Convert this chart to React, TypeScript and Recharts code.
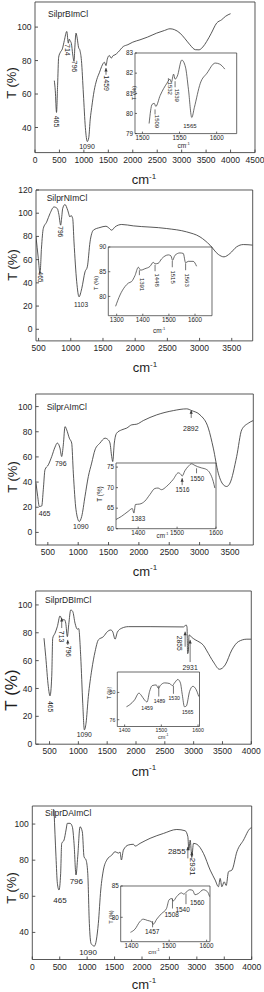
import React from 'react';
import { LineChart, Line, XAxis, YAxis, ReferenceLine, ReferenceDot } from 'recharts';

const FONT = '"Liberation Sans", Arial, Helvetica, sans-serif';
const INK = '#3a3a3a';
const TXT = '#1e1e1e';

// ---------- Panel 1 : SilprBImCl ----------
const p1Wavenumber = [395, 415, 440, 462, 484, 520, 560, 600, 650, 682, 700, 716, 745, 770, 798, 815, 839, 865, 890, 920, 950, 990, 1030, 1070, 1100, 1130, 1160, 1210, 1262, 1320, 1364, 1420, 1452, 1480, 1520, 1560, 1600, 1636, 1700, 1806, 1900, 2000, 2148, 2300, 2489, 2650, 2761, 2850, 2966, 3070, 3170, 3280, 3354, 3430, 3511, 3600, 3716, 3818, 3900, 4000];
const p1Transmittance = [68, 62, 49, 65, 82, 85, 87, 92, 97.4, 90.4, 92.8, 92, 90, 84, 79.5, 88, 96.4, 93, 88, 86, 80, 60, 40, 31.6, 34, 45, 52, 62, 68.5, 73, 76.5, 79, 77, 81, 83, 81.5, 83, 83.4, 85, 88.4, 89.5, 91, 92.4, 94, 96.4, 98, 99, 98.5, 96.4, 93, 89.4, 86.5, 86.4, 88, 91.4, 96, 102.4, 104.4, 106.5, 108];
const p1InsetWavenumber = [1509, 1513, 1516, 1518, 1524, 1533, 1537, 1539, 1542, 1544, 1547, 1553, 1558, 1562, 1566.5, 1570, 1578, 1587, 1598, 1604, 1611];
const p1InsetTransmittance = [79.5, 80.45, 80.5, 80.35, 80.9, 81.5, 81.7, 81.55, 81.95, 81.7, 81.85, 82.65, 82.3, 81.2, 79.8, 80.3, 81.5, 82, 82.5, 82.45, 82.2];

// ---------- Panel 2 : SilprNImCl ----------
const p2Wavenumber = [460, 496, 522, 545, 573, 626, 677, 740, 791, 815, 843, 860, 874, 910, 952, 988, 1003, 1030, 1050, 1092, 1128, 1170, 1221, 1257, 1299, 1351, 1454, 1547, 1583, 1635, 1687, 1791, 1971, 2490, 2800, 3007, 3162, 3291, 3379, 3472, 3575, 3679, 3825];
const p2Transmittance = [79.6, 61, 48, 70, 86.8, 92.5, 99.7, 105.4, 104, 99, 89.7, 97, 104, 107.5, 102.6, 96.8, 98, 95.4, 75.3, 41, 28, 35, 49.5, 53.8, 75.3, 85.4, 87.7, 88.8, 87.7, 85.4, 88.2, 90.3, 89.1, 86.8, 83.9, 79.6, 72.5, 64.5, 62.4, 65.3, 71, 73, 72.5];
const p2InsetWavenumber = [1296, 1313, 1332, 1345, 1357, 1370, 1383, 1392, 1408, 1428, 1440, 1447, 1459, 1472, 1498, 1508, 1514, 1523, 1542, 1555, 1564, 1574, 1593, 1606];
const p2InsetTransmittance = [78, 80.3, 82, 82.7, 83, 84.2, 85.9, 85.3, 85.6, 86.1, 86.9, 86.6, 86.7, 87.6, 88.4, 88.2, 87.3, 88.3, 88.8, 88.7, 86.8, 87.1, 87.1, 86.1];

// ---------- Panel 3 : SilprAImCl ----------
const p3Wavenumber = [305, 333, 359, 399, 425, 453, 508, 564, 618, 656, 700, 728, 755, 783, 811, 854, 893, 920, 964, 1018, 1058, 1112, 1167, 1222, 1277, 1359, 1442, 1496, 1524, 1552, 1569, 1595, 1634, 1717, 1799, 1882, 1964, 2073, 2293, 2567, 2788, 2870, 3007, 3144, 3226, 3308, 3391, 3446, 3501, 3611, 3694, 3803, 3885];
const p3Transmittance = [39.2, 28.6, 20.6, 21, 33.9, 49.8, 53.7, 60.3, 67.8, 71, 67, 60.3, 69.6, 84.1, 81.5, 74.9, 71, 47.1, 18, 8.7, 12.7, 28.6, 44.4, 55.1, 65.6, 71, 74.9, 73.5, 71, 60.3, 56.3, 71, 78.9, 81.5, 82.9, 85.5, 86, 88.9, 93.4, 96.8, 98.2, 96.8, 93.4, 82.9, 67, 47.1, 37.9, 36.5, 39.2, 60.3, 81.5, 86.8, 88.9];
const p3InsetWavenumber = [1342, 1357, 1374, 1385, 1389, 1393, 1404, 1417, 1430, 1443, 1451, 1460, 1473, 1490, 1503, 1510, 1513, 1520, 1529, 1537, 1546, 1553, 1563, 1576, 1584, 1593, 1597];
const p3InsetTransmittance = [62.2, 63, 64.2, 64.9, 63.8, 65.9, 66, 66.7, 68.3, 69.8, 69.9, 69.5, 70.3, 72, 73.6, 73.2, 72.8, 74.1, 75.2, 75.8, 75.4, 75.1, 74.8, 74.4, 73.6, 71.5, 69.9];

// ---------- Panel 4 : SilprDBImCl ----------
const p4Wavenumber = [404, 434, 479, 508, 538, 555, 595, 635, 682, 722, 757, 781, 809, 833, 868, 903, 942, 982, 1006, 1041, 1076, 1104, 1133, 1173, 1232, 1290, 1347, 1434, 1503, 1562, 1597, 1637, 1677, 1753, 1868, 2244, 2823, 2870, 2885, 2895, 2907, 2921, 2960, 3026, 3113, 3170, 3229, 3344, 3448, 3547, 3663, 3778, 3923, 4000];
const p4Transmittance = [76.1, 62.9, 41.3, 34.7, 48.5, 76.1, 79.7, 84.4, 92.1, 89.2, 89.4, 86.9, 77.2, 86, 96.4, 95.2, 86.9, 82.6, 83, 62.9, 29.4, 10.3, 15.1, 34.2, 53.3, 66.5, 74.9, 77.2, 80.8, 82, 80.6, 75.4, 80.5, 83.3, 84.4, 84.4, 84.2, 85.6, 84, 65, 66, 78.5, 77, 75, 73, 71, 67, 59, 53.8, 56.9, 67.7, 73.7, 75.4, 75.4];
const p4InsetWavenumber = [1405, 1414, 1427, 1439, 1445, 1454, 1461, 1468, 1475, 1486, 1492, 1497, 1509, 1523, 1530, 1536, 1545, 1552, 1557, 1563, 1568, 1577, 1586, 1595, 1602];
const p4InsetTransmittance = [77.9, 78.2, 78.9, 79.9, 79.6, 78.9, 78.6, 80.15, 81, 81.1, 80.6, 81, 81.4, 81.3, 81.0, 81.4, 81.9, 81.4, 79.7, 77.9, 78, 80.15, 80.9, 80.4, 79.4];

// ---------- Panel 5 : SilprDAImCl ----------
const p5Wavenumber = [396, 432, 457, 487, 517, 536, 578, 615, 639, 688, 730, 761, 797, 828, 870, 912, 943, 980, 1011, 1040, 1071, 1131, 1204, 1248, 1296, 1358, 1449, 1509, 1569, 1600, 1624, 1661, 1752, 1843, 1874, 1965, 2148, 2391, 2635, 2786, 2836, 2854, 2878, 2909, 2938, 3000, 3120, 3243, 3334, 3394, 3425, 3456, 3498, 3535, 3577, 3639, 3730, 3850, 3972, 4000];
const p5Transmittance = [107.8, 81.9, 67.2, 63.5, 72.7, 89.3, 91.1, 96.7, 100.4, 100.4, 98.5, 89.3, 71.8, 81.9, 98.5, 95.7, 81.9, 80.1, 72.7, 45, 33.9, 32.4, 45, 63.5, 74.5, 80.1, 82.8, 84.7, 83.9, 84.5, 80.1, 85.6, 88.4, 88.8, 87.8, 89.3, 92.1, 94.8, 97, 96.3, 93, 85.6, 91.1, 81.9, 89.3, 88.8, 83.8, 74.5, 69, 65.3, 69.9, 65.3, 68, 66, 73.6, 74.5, 84.7, 91.1, 97.6, 98];
const p5InsetWavenumber = [1397, 1409, 1422, 1431, 1442, 1453, 1458, 1467, 1480, 1493, 1500, 1507, 1511, 1520, 1533, 1539, 1547, 1555, 1563, 1569, 1578, 1591, 1602, 1608];
const p5InsetTransmittance = [77.6, 78.1, 79.3, 79.7, 79.5, 79.3, 78.9, 79.7, 80.6, 81.4, 82.8, 83, 82.6, 83.3, 83.9, 83.7, 84.1, 84.4, 84.3, 83.6, 83.8, 84.4, 84.1, 83.3];

// ---------- Tick labels ----------
const p1XTicks = [0, 500, 1000, 1500, 2000, 2500, 3000, 3500, 4000, 4500];
const p1YTicks = [40, 60, 80, 100];
const p2XTicks = [500, 1000, 1500, 2000, 2500, 3000, 3500];
const p2YTicks = [0, 20, 40, 60, 80, 100, 120];
const p3XTicks = [500, 1000, 1500, 2000, 2500, 3000, 3500];
const p3YTicks = [0, 20, 40, 60, 80, 100];
const p4XTicks = [500, 1000, 1500, 2000, 2500, 3000, 3500, 4000];
const p4YTicks = [0, 20, 40, 60, 80, 100];
const p5XTicks = [0, 500, 1000, 1500, 2000, 2500, 3000, 3500, 4000];
const p5YTicks = [40, 60, 80, 100];
const i1XTicks = [1500, 1550, 1600];
const i1YTicks = [79, 80, 81, 82, 83];
const i2XTicks = [1300, 1400, 1500, 1600];
const i2YTicks = [80, 85, 90];
const i3XTicks = [1400, 1500, 1600];
const i3YTicks = [60, 65, 70, 75];
const i4XTicks = [1400, 1500, 1600];
const i4YTicks = [76, 80];
const i5XTicks = [1400, 1500, 1600];
const i5YTicks = [80, 85];

// ---------- Peak labels (data coordinates: wavenumber, T) ----------
type Note = { text: string; x: number; y: number; rotate?: number };
type Arrow = { x: number; from: number; to: number; head?: boolean };

const p1Notes: Note[] = [
  { text: '465', x: 436, y: 43.6, rotate: 90 },
  { text: '714', x: 665, y: 86.4, rotate: 90 },
  { text: '796', x: 802, y: 76.5, rotate: 90 },
  { text: '1459', x: 1452, y: 66.5, rotate: 90 },
  { text: '1090', x: 1064, y: 28.7 },
];
const p1Arrows: Arrow[] = [{ x: 1452, from: 71.5, to: 75.5, head: true }];
const i1Notes: Note[] = [
  { text: '1509', x: 1520, y: 79.6, rotate: 90 },
  { text: '1532', x: 1537, y: 81.25, rotate: 90 },
  { text: '1539', x: 1547, y: 80.9, rotate: 90 },
  { text: '1565', x: 1564, y: 79.4 },
];
const i1Arrows: Arrow[] = [
  { x: 1517, from: 79.95, to: 80.2 },
  { x: 1535, from: 81.6, to: 81.75 },
  { x: 1544, from: 81.3, to: 81.6 },
];

const p2Notes: Note[] = [
  { text: '465', x: 522, y: 45, rotate: 90 },
  { text: '796', x: 848, y: 84, rotate: 90 },
  { text: '1103', x: 1159, y: 21.5 },
];
const i2Notes: Note[] = [
  { text: '1391', x: 1396, y: 82.4, rotate: 90 },
  { text: '1448', x: 1453, y: 83.3, rotate: 90 },
  { text: '1515', x: 1517, y: 83.9, rotate: 90 },
  { text: '1563', x: 1568, y: 83.3, rotate: 90 },
];
const i2Arrows: Arrow[] = [
  { x: 1387, from: 84.3, to: 85.3 },
  { x: 1447, from: 85.1, to: 86.4 },
  { x: 1513, from: 85.9, to: 87.2 },
  { x: 1564, from: 85.3, to: 86.7 },
];

const p3Notes: Note[] = [
  { text: '465', x: 448, y: 15.4 },
  { text: '796', x: 713, y: 54.5 },
  { text: '1090', x: 1043, y: 4.8 },
  { text: '2892', x: 2855, y: 82.9 },
];
const p3Arrows: Arrow[] = [{ x: 2862, from: 91, to: 97, head: true }];
const i3Notes: Note[] = [
  { text: '1383', x: 1400, y: 62.4 },
  { text: '1516', x: 1514, y: 69.5 },
  { text: '1550', x: 1552, y: 72.3 },
];
const i3Arrows: Arrow[] = [
  { x: 1513, from: 70.6, to: 72.3, head: true },
  { x: 1550, from: 73.5, to: 74.7 },
];

const p4Notes: Note[] = [
  { text: '465', x: 513, y: 27, rotate: 90 },
  { text: '713', x: 711, y: 77.3, rotate: 90 },
  { text: '796', x: 826, y: 66.7, rotate: 90 },
  { text: '1090', x: 1102, y: 6.7 },
  { text: '2855', x: 2752, y: 72.5, rotate: 90 },
  { text: '2931', x: 2939, y: 55 },
];
const p4Arrows: Arrow[] = [
  { x: 711, from: 83.4, to: 90.6, head: true },
  { x: 816, from: 71.3, to: 74.9, head: true },
  { x: 2852, from: 70, to: 80.8, head: true },
  { x: 2939, from: 59, to: 74.9, head: true },
];
const i4Notes: Note[] = [
  { text: '1459', x: 1461, y: 77.7 },
  { text: '1489', x: 1495, y: 78.7 },
  { text: '1530', x: 1535, y: 79.2 },
  { text: '1565', x: 1572, y: 77.2 },
];
const i4Arrows: Arrow[] = [
  { x: 1493, from: 79.4, to: 81.0 },
  { x: 1533, from: 79.8, to: 81.0 },
];

const p5Notes: Note[] = [
  { text: '465', x: 505, y: 57.9 },
  { text: '796', x: 803, y: 68 },
  { text: '1090', x: 1016, y: 28.7 },
  { text: '2855', x: 2635, y: 84.7 },
  { text: '2931', x: 2918, y: 76.4, rotate: 90 },
];
const p5Arrows: Arrow[] = [
  { x: 2836, from: 81, to: 87.4, head: true },
  { x: 2908, from: 80.4, to: 84.7, head: true },
];
const i5Notes: Note[] = [
  { text: '1457', x: 1455, y: 77.7 },
  { text: '1508', x: 1507, y: 80.5 },
  { text: '1540', x: 1536, y: 81.3 },
  { text: '1560', x: 1575, y: 82.3 },
];
const i5Arrows: Arrow[] = [
  { x: 1456, from: 78.4, to: 79.4 },
  { x: 1509, from: 81.4, to: 83 },
  { x: 1545, from: 82.1, to: 83.8 },
];

// ---------- Generic framed spectrum ----------
type PlotProps = {
  frame: [number, number, number, number]; // left, right, top, bottom of plot box on page
  xDomain: [number, number];
  yDomain: [number, number];
  xTicks: number[];
  yTicks: number[];
  wn: number[];
  tr: number[];
  notes: Note[];
  arrows: Arrow[];
  tickFont: number;
  noteFont: number;
  tickLen: number;
  xGap: number;
  yGap: number;
  line: number;
};

function Plot(p: PlotProps) {
  const [l, r, t, b] = p.frame;
  const padTop = 7;
  const axisH = Math.ceil(p.tickFont + p.xGap + 4);
  const top = t - padTop;
  const height = b - top + axisH;
  const data = p.wn.map((w, i) => ({ w, v: p.tr[i] }));
  const tickStyle = { fontSize: p.tickFont, fill: TXT, fontFamily: FONT };
  return (
    <div style={{ position: 'absolute', left: 0, top, width: 264, height }}>
      <LineChart
        width={264}
        height={height}
        data={data}
        margin={{ top: padTop, right: 264 - r, bottom: 0, left: 0 }}
      >
        <XAxis
          dataKey="w"
          type="number"
          domain={p.xDomain}
          ticks={p.xTicks}
          allowDataOverflow
          interval={0}
          height={axisH}
          tickSize={-p.tickLen}
          tickMargin={p.xGap}
          stroke={INK}
          strokeWidth={p.line}
          tick={tickStyle}
        />
        <YAxis
          type="number"
          domain={p.yDomain}
          ticks={p.yTicks}
          allowDataOverflow
          interval={0}
          width={l}
          tickSize={-p.tickLen}
          tickMargin={p.yGap}
          stroke={INK}
          strokeWidth={p.line}
          tick={tickStyle}
        />
        <ReferenceLine x={p.xDomain[1]} stroke={INK} strokeWidth={p.line} ifOverflow="visible" />
        <ReferenceLine y={p.yDomain[1]} stroke={INK} strokeWidth={p.line} ifOverflow="visible" />
        <Line
          dataKey="v"
          type="monotone"
          stroke={INK}
          strokeWidth={p.line}
          dot={false}
          activeDot={false}
          isAnimationActive={false}
        />
        {p.arrows.map((a, i) => (
          <ReferenceLine
            key={`a${i}`}
            segment={[{ x: a.x, y: a.from }, { x: a.x, y: a.to }]}
            stroke={INK}
            strokeWidth={0.7}
            ifOverflow="visible"
          />
        ))}
        {p.arrows
          .filter((a) => a.head)
          .map((a, i) => (
            <ReferenceDot
              key={`h${i}`}
              x={a.x}
              y={a.to}
              r={1}
              ifOverflow="visible"
              shape={(s: any) => (
                <path
                  d={`M${s.cx},${s.cy} L${s.cx - 1.6},${s.cy + 3.5} L${s.cx + 1.6},${s.cy + 3.5} Z`}
                  fill={INK}
                />
              )}
            />
          ))}
        {p.notes.map((n, i) => (
          <ReferenceDot
            key={`n${i}`}
            x={n.x}
            y={n.y}
            r={1}
            ifOverflow="visible"
            shape={(s: any) => (
              <text
                x={s.cx}
                y={s.cy}
                fontSize={p.noteFont}
                fontFamily={FONT}
                fill={TXT}
                textAnchor="middle"
                dominantBaseline="central"
                transform={n.rotate ? `rotate(${n.rotate} ${s.cx} ${s.cy})` : undefined}
              >
                {n.text}
              </text>
            )}
          />
        ))}
      </LineChart>
    </div>
  );
}

function Txt({ x, y, size, rotate, left, children }: { x: number; y: number; size: number; rotate?: number; left?: boolean; children: React.ReactNode }) {
  return (
    <div
      style={{
        position: 'absolute',
        left: x,
        top: y,
        transform: `translate(${left ? '0' : '-50%'}, -50%)${rotate ? ` rotate(${rotate}deg)` : ''}`,
        fontSize: size,
        fontFamily: FONT,
        color: TXT,
        whiteSpace: 'nowrap',
        lineHeight: 1,
      }}
    >
      {children}
    </div>
  );
}

function Wn({ x, y, size }: { x: number; y: number; size: number }) {
  return (
    <Txt x={x} y={y} size={size}>
      cm<span style={{ fontSize: '0.62em', position: 'relative', top: '-0.65em' }}>-1</span>
    </Txt>
  );
}

const MAIN = { tickFont: 8.5, tickLen: 3, xGap: 7, yGap: 6.5, line: 0.85 };
const INSET = { tickFont: 6.3, tickLen: 2, xGap: 4.3, yGap: 4, line: 0.75 };

export default function App() {
  return (
    <div style={{ position: 'absolute', left: 0, top: 0, width: 264, height: 992, background: '#fff', overflow: 'hidden' }}>
      {/* Panel 1 */}
      <Plot {...MAIN} frame={[35, 255, 2.2, 152.8]} xDomain={[0, 4500]} yDomain={[25, 115]} xTicks={p1XTicks} yTicks={p1YTicks}
        wn={p1Wavenumber} tr={p1Transmittance} notes={p1Notes} arrows={p1Arrows} noteFont={7} />
      <Plot {...INSET} frame={[135, 236.7, 52.7, 133.3]} xDomain={[1490, 1627]} yDomain={[79, 83]} xTicks={i1XTicks} yTicks={i1YTicks}
        wn={p1InsetWavenumber} tr={p1InsetTransmittance} notes={i1Notes} arrows={i1Arrows} noteFont={6} />
      <Txt x={48} y={13.5} size={8.5} left>SilprBImCl</Txt>
      <Txt x={10.5} y={83} size={13} rotate={-90}>T (%)</Txt>
      <Wn x={144} y={180} size={13} />
      <Txt x={134} y={93} size={6} rotate={-90}>T (%)</Txt>
      <Wn x={183.5} y={145.5} size={6.5} />

      {/* Panel 2 */}
      <Plot {...MAIN} frame={[36, 252.7, 190, 340.9]} xDomain={[460, 3825]} yDomain={[-10, 120]} xTicks={p2XTicks} yTicks={p2YTicks}
        wn={p2Wavenumber} tr={p2Transmittance} notes={p2Notes} arrows={[]} noteFont={6.5} />
      <Plot {...INSET} frame={[108.3, 212, 247.3, 316]} xDomain={[1268, 1665]} yDomain={[76.1, 90]} xTicks={i2XTicks} yTicks={i2YTicks}
        wn={p2InsetWavenumber} tr={p2InsetTransmittance} notes={i2Notes} arrows={i2Arrows} noteFont={6} />
      <Txt x={46.7} y={197.7} size={8.5} left>SilprNImCl</Txt>
      <Txt x={11.5} y={265} size={13} rotate={-90}>T (%)</Txt>
      <Wn x={145} y={368} size={13} />
      <Txt x={96} y={283} size={6} rotate={-90}>T (%)</Txt>
      <Wn x={159} y={331} size={6.5} />

      {/* Panel 3 */}
      <Plot {...MAIN} frame={[35.7, 253.3, 394, 545]} xDomain={[300, 3885]} yDomain={[-10, 110]} xTicks={p3XTicks} yTicks={p3YTicks}
        wn={p3Wavenumber} tr={p3Transmittance} notes={p3Notes} arrows={p3Arrows} noteFont={7} />
      <Plot {...INSET} frame={[116, 216, 463.3, 529]} xDomain={[1343, 1600]} yDomain={[60, 76]} xTicks={i3XTicks} yTicks={i3YTicks}
        wn={p3InsetWavenumber} tr={p3InsetTransmittance} notes={i3Notes} arrows={i3Arrows} noteFont={6.3} />
      <Txt x={46.7} y={406.7} size={8.5} left>SilprAImCl</Txt>
      <Txt x={11.5} y={476.7} size={13} rotate={-90}>T (%)</Txt>
      <Wn x={145} y={571.7} size={13} />
      <Txt x={100} y={494} size={6.3} rotate={-90}>T (%)</Txt>
      <Wn x={162.5} y={536} size={6.3} />

      {/* Panel 4 */}
      <Plot {...MAIN} frame={[35.7, 251.3, 591.1, 744.3]} xDomain={[260, 4000]} yDomain={[0, 110]} xTicks={p4XTicks} yTicks={p4YTicks}
        wn={p4Wavenumber} tr={p4Transmittance} notes={p4Notes} arrows={p4Arrows} noteFont={6.8} />
      <Plot {...INSET} tickFont={5.2} xGap={3.8} frame={[117.3, 199.5, 672, 726.5]} xDomain={[1380, 1604]} yDomain={[75, 83]} xTicks={i4XTicks} yTicks={i4YTicks}
        wn={p4InsetWavenumber} tr={p4InsetTransmittance} notes={i4Notes} arrows={i4Arrows} noteFont={5.2} />
      <Txt x={45} y={600} size={8.5} left>SilprDBImCl</Txt>
      <Txt x={10.5} y={690} size={17} rotate={-90}>T (%)</Txt>
      <Wn x={144} y={771.7} size={13} />
      <Txt x={109} y={693} size={5} rotate={-90}>T (%)</Txt>
      <Wn x={163.3} y={737.7} size={5.5} />

      {/* Panel 5 */}
      <Plot {...MAIN} frame={[32.3, 251.7, 805.8, 959.3]} xDomain={[0, 4000]} yDomain={[25, 110]} xTicks={p5XTicks} yTicks={p5YTicks}
        wn={p5Wavenumber} tr={p5Transmittance} notes={p5Notes} arrows={p5Arrows} noteFont={8} />
      <Plot {...INSET} frame={[120.7, 210, 886, 941.7]} xDomain={[1371, 1609]} yDomain={[76.1, 85]} xTicks={i5XTicks} yTicks={i5YTicks}
        wn={p5InsetWavenumber} tr={p5InsetTransmittance} notes={i5Notes} arrows={i5Arrows} noteFont={6.5} />
      <Txt x={45} y={813} size={8.5} left>SilprDAImCl</Txt>
      <Txt x={11} y={888} size={13} rotate={-90}>T (%)</Txt>
      <Wn x={144} y={984.5} size={13} />
      <Txt x={111.5} y={916.7} size={5.5} rotate={-90}>T (%)</Txt>
      <Wn x={154} y={951.7} size={6} />
    </div>
  );
}
